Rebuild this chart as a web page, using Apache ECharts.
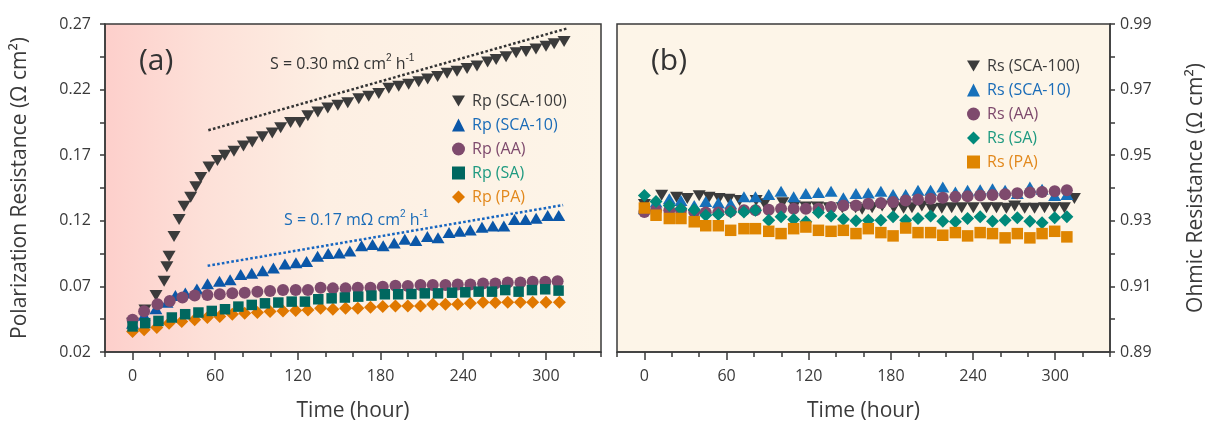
<!DOCTYPE html>
<html>
<head>
<meta charset="utf-8">
<script src="https://cdn.jsdelivr.net/npm/echarts@6/dist/echarts.min.js"></script>
<style>
html,body{margin:0;padding:0;background:#fff;}
#chart{width:1208px;height:427px;}
</style>
</head>
<body>
<div id="chart"></div>
<script>
// ---------- Data ----------
// x axis ticks
const xMajorTicks = [0, 60, 120, 180, 240, 300];
const xMinorTicks = [-20, 20, 40, 80, 100, 140, 160, 200, 220, 260, 280, 320, 340];
// left y axis (Polarization Resistance)
const yLeftLabels = [0.02, 0.07, 0.12, 0.17, 0.22, 0.27];
const yLeftTicks = [0.02, 0.045, 0.07, 0.095, 0.12, 0.145, 0.17, 0.195, 0.22, 0.245, 0.27];
// right y axis (Ohmic Resistance)
const yRightLabels = [0.89, 0.91, 0.93, 0.95, 0.97, 0.99];
const yRightTicks = [0.89, 0.90, 0.91, 0.92, 0.93, 0.94, 0.95, 0.96, 0.97, 0.98, 0.99];

// Panel (a): Rp
const tRpSCA100 = [0, 9, 17, 22.9, 24.9, 26.5, 30.1, 33.8, 37.4, 42.2, 45.9, 49.5, 55.5, 61.6, 66.9, 73.6, 80.5, 86.9, 94.2, 101.4, 107.5, 114.7, 121.4, 127.2, 134.5, 141.7, 149, 156.2,
  164.2, 171.4, 178.7, 186, 193.2, 200.4, 207.7, 214.2, 221.4, 228.3, 235.5, 242.8, 250, 257.7, 263.9, 271.1, 278.4, 285.6, 292.8, 300.1, 306, 313.2];
const rpSCA100 = [0.042, 0.052, 0.063, 0.074, 0.085, 0.093, 0.108, 0.121, 0.131, 0.138, 0.146, 0.153, 0.161, 0.166, 0.170, 0.173, 0.177, 0.180, 0.184, 0.187, 0.191, 0.195, 0.195, 0.200, 0.203, 0.206, 0.208, 0.210,
  0.213, 0.215, 0.217, 0.221, 0.2226, 0.224, 0.226, 0.228, 0.230, 0.2325, 0.234, 0.236, 0.238, 0.241, 0.243, 0.245, 0.248, 0.249, 0.251, 0.253, 0.255, 0.2567];

const tRpSCA10 = [0, 8.4, 16.9, 25, 31.1, 38.3, 46.7, 54.4, 63.1, 70.8, 78.5, 86.5, 94.4, 102.2, 110.6, 118.6, 126.3, 134.3, 142, 150, 157.7, 166.2, 174.2, 181.9, 189.9, 197.6, 205.6, 214, 221.7, 229.7, 237.4, 245.1, 253.6, 261.5, 269.5, 277.2, 285.2, 292.9, 301.3, 309.3];
const rpSCA10 = [0.042, 0.048, 0.053, 0.058, 0.063, 0.065, 0.068, 0.072, 0.074, 0.075, 0.079, 0.080, 0.082, 0.084, 0.087, 0.088, 0.089, 0.093, 0.095, 0.0955, 0.097, 0.101, 0.102, 0.101, 0.103, 0.106, 0.105, 0.108, 0.107, 0.111, 0.112, 0.113, 0.115, 0.116, 0.116, 0.121, 0.121, 0.122, 0.124, 0.124];

const tRpAA = [0, 8.4, 18.1, 27, 36.2, 45.1, 54.3, 63.3, 72.4, 81.4, 90.6, 99.8, 109.2, 118.4, 127.3, 136.5, 145.4, 154.6, 163.5, 172.7, 181.6, 190.8, 199.8, 209, 217.9, 227.1, 236, 245.2, 254.4, 263.3, 272.3, 281.5, 290.4, 299.6, 308.5];
const rpAA = [0.0445, 0.051, 0.0564, 0.0589, 0.0615, 0.063, 0.0635, 0.064, 0.0647, 0.0652, 0.066, 0.0665, 0.0672, 0.0672, 0.0672, 0.069, 0.0685, 0.0685, 0.069, 0.069, 0.0698, 0.0705, 0.0703, 0.071, 0.071, 0.071, 0.0715, 0.0715, 0.0723, 0.0723, 0.073, 0.073, 0.0735, 0.0735, 0.074];

const tRpSA = [0, 9.2, 18.8, 28.5, 38.2, 47.8, 57.5, 67.1, 76.8, 86.5, 96.1, 105.8, 115.5, 125.1, 134.8, 144.5, 154.1, 163.8, 173.4, 183.1, 192.8, 202.4, 212.1, 221.7, 231.9, 241.5, 251.2, 260.9, 270.5, 280.2, 289.9, 299.5, 309.2];
const rpSA = [0.0395, 0.042, 0.0437, 0.0463, 0.0488, 0.0501, 0.0513, 0.0526, 0.0546, 0.0559, 0.0571, 0.0577, 0.0584, 0.0584, 0.0602, 0.0609, 0.0615, 0.0622, 0.063, 0.064, 0.064, 0.0642, 0.0647, 0.0647, 0.0652, 0.0655, 0.066, 0.066, 0.0672, 0.066, 0.0672, 0.0678, 0.0668];

const tRpPA = [0, 8.4, 17.6, 26.5, 35.7, 45.1, 54.3, 63.3, 72.4, 81.4, 90.6, 99.8, 109.2, 118.4, 127.3, 136.5, 145.4, 154.6, 163.5, 172.7, 181.6, 190.8, 199.8, 209, 217.9, 227.1, 236, 245.2, 254.4, 263.3, 272.3, 281.5, 290.4, 300.1, 309.8];
const rpPA = [0.0357, 0.0369, 0.0387, 0.042, 0.0433, 0.0445, 0.0463, 0.047, 0.0488, 0.0496, 0.0501, 0.0508, 0.0513, 0.0516, 0.0521, 0.0534, 0.0526, 0.0534, 0.0534, 0.0541, 0.0546, 0.0551, 0.0551, 0.0551, 0.0564, 0.0564, 0.0564, 0.0571, 0.0579, 0.0577, 0.0579, 0.0579, 0.0579, 0.0579, 0.0579];

// degradation-rate guide lines (panel a)
const fitSCA100T = [55, 315];
const fitSCA100V = [0.189, 0.2665];
const fitSCA10T = [54.5, 312.5];
const fitSCA10V = [0.0857, 0.132];

// Panel (b): Rs
const tRsSCA100 = [0, 12.6, 23.5, 31.3, 40, 47.2, 54.5, 61.7, 69.5, 81.6, 87.7, 101, 109.5, 117.9, 126.4, 134.9, 144.5, 154.2, 159, 166.3, 173.6, 182.1, 189.3, 195.4, 202.6, 209.9, 217.2, 224.4, 231.7, 240.2, 249.8, 257.1, 264.3, 270.4, 277.7, 284.9, 292.2, 299.5, 306.7, 314];
const rsSCA100 = [0.935, 0.9378, 0.9372, 0.9368, 0.9376, 0.9372, 0.9368, 0.9366, 0.9362, 0.9362, 0.9352, 0.9355, 0.9345, 0.9342, 0.9342, 0.934, 0.934, 0.934, 0.9335, 0.934, 0.9345, 0.934, 0.9338, 0.934, 0.9345, 0.9335, 0.9338, 0.934, 0.934, 0.934, 0.934, 0.934, 0.9338, 0.9345, 0.9338, 0.9338, 0.934, 0.934, 0.934, 0.9368];

const tRs = [0, 8.5, 18.2, 26.7, 36.4, 44.8, 54, 63, 72.7, 81.1, 90.8, 99.8, 109, 117.9, 127.1, 136.3, 145.3, 154.5, 163.5, 172.7, 181.6, 190.8, 199.8, 209, 217.9, 227.1, 236, 245.2, 254.2, 263.4, 272.3, 281.5, 290.4, 299.6, 308.5];
const rsSCA10 = [0.9337, 0.9357, 0.9367, 0.9362, 0.9347, 0.9359, 0.9355, 0.9352, 0.9373, 0.9373, 0.938, 0.939, 0.9373, 0.9383, 0.9386, 0.939, 0.937, 0.9383, 0.9385, 0.939, 0.938, 0.938, 0.9393, 0.9393, 0.9403, 0.9388, 0.9393, 0.9395, 0.9398, 0.9393, 0.9383, 0.9403, 0.9396, 0.9377, 0.938];
const rsAA = [0.9327, 0.9332, 0.9332, 0.9332, 0.9327, 0.9325, 0.9325, 0.9329, 0.9332, 0.9332, 0.9334, 0.9337, 0.9337, 0.9337, 0.9337, 0.9342, 0.9347, 0.9347, 0.9352, 0.9354, 0.9357, 0.9362, 0.9365, 0.9367, 0.937, 0.9373, 0.9375, 0.9377, 0.9379, 0.9381, 0.9384, 0.9386, 0.9388, 0.939, 0.9393];
const rsSA = [0.9377, 0.9359, 0.9347, 0.9337, 0.9334, 0.9317, 0.9319, 0.9327, 0.9327, 0.9332, 0.9302, 0.9312, 0.9304, 0.9297, 0.9325, 0.9315, 0.9305, 0.93, 0.9302, 0.9302, 0.9312, 0.9302, 0.9307, 0.9315, 0.9299, 0.9297, 0.9307, 0.9312, 0.9299, 0.9302, 0.9309, 0.9299, 0.9294, 0.9309, 0.9312];
const rsPA = [0.9339, 0.9317, 0.9307, 0.9307, 0.9297, 0.9285, 0.9285, 0.9271, 0.9276, 0.9276, 0.9268, 0.9261, 0.9276, 0.9281, 0.9271, 0.9268, 0.9271, 0.9261, 0.9276, 0.9264, 0.9254, 0.9278, 0.9264, 0.9264, 0.9256, 0.9264, 0.9254, 0.9264, 0.9261, 0.9248, 0.9261, 0.9248, 0.9261, 0.9268, 0.9251];

// ---------- Chart ----------
const FONT = "'Open Sans', 'Noto Sans', 'DejaVu Sans', sans-serif";
const AX = '#3a3a3a';
const zip = (t, v) => t.map((x, i) => [x, v[i]]);
const DOWN_TRI = 'path://M0,0L12,0L6,10Z';

const C = {
  dark: '#3b3b3b',
  blueA: '#0b57a8', blueB: '#1670ba',
  purple: '#7e4a6d',
  tealA: '#00675f', tealB: '#00897a',
  orangeA: '#e07800', orangeB: '#df8500',
  tealText: '#1f9a80', orangeText: '#e2881c', blueText: '#1a6cb8'
};

function scat(name, t, v, symbol, color, size, rotate, xi, yi) {
  return {
    name, type: 'scatter', xAxisIndex: xi, yAxisIndex: yi,
    data: zip(t, v), symbol, symbolSize: size, symbolRotate: rotate || 0,
    symbolKeepAspect: true,
    itemStyle: { color, opacity: 1 }, silent: true
  };
}
function fit(t, v, color) {
  return {
    type: 'line', xAxisIndex: 0, yAxisIndex: 0, data: zip(t, v),
    symbol: 'none', silent: true,
    lineStyle: { color, width: 2.5, type: [2.6, 2.2] }, z: 3
  };
}

function xAxes(grid) {
  return [
    {
      gridIndex: grid, type: 'value', position: 'bottom', min: -20, max: 340,
      axisLine: { show: true, onZero: false, lineStyle: { color: AX, width: 1.5 } },
      axisTick: { show: true, length: 8, inside: false, customValues: xMajorTicks, lineStyle: { color: AX, width: 1.5 } },
      axisLabel: { customValues: xMajorTicks, margin: 16, fontSize: 16, color: AX, fontFamily: FONT },
      splitLine: { show: false },
      name: 'Time (hour)', nameLocation: 'middle', nameGap: 49,
      nameTextStyle: { fontSize: 21, color: AX, fontFamily: FONT }
    },
    {
      gridIndex: grid, type: 'value', position: 'bottom', min: -20, max: 340,
      axisLine: { show: false, onZero: false },
      axisTick: { show: true, length: 5, customValues: xMinorTicks, lineStyle: { color: AX, width: 1.5 } },
      axisLabel: { show: false },
      splitLine: { show: false }
    }
  ];
}

const chart = echarts.init(document.getElementById('chart'), null, { renderer: 'canvas' });

const supRich = {
  sup: { fontSize: 10, verticalAlign: 'top', lineHeight: 14 }
};

const legendCommon = {
  orient: 'vertical', itemWidth: 13, itemHeight: 13, itemGap: 8,
  symbolKeepAspect: true, selectedMode: false,
  textStyle: { fontSize: 16, fontFamily: FONT, padding: [0, 0, 0, 2] }
};

const option = {
  animation: false,
  backgroundColor: '#ffffff',
  textStyle: { fontFamily: FONT },
  grid: [
    {
      left: 105, right: 607, top: 24, bottom: 73, show: true,
      borderColor: AX, borderWidth: 1.5,
      backgroundColor: new echarts.graphic.LinearGradient(0, 0, 1, 0, [
        { offset: 0, color: '#fdcfcb' },
        { offset: 0.2, color: '#fde0d8' },
        { offset: 0.45, color: '#fdefe3' },
        { offset: 1, color: '#fdf5e8' }
      ])
    },
    {
      left: 617, right: 96, top: 24, bottom: 73, show: true,
      borderColor: AX, borderWidth: 1.5, backgroundColor: '#fdf5e8'
    }
  ],
  xAxis: [...xAxes(0), ...xAxes(1)],
  yAxis: [
    {
      gridIndex: 0, type: 'value', position: 'left', min: 0.02, max: 0.27,
      axisLine: { show: true, onZero: false, lineStyle: { color: AX, width: 1.5 } },
      axisTick: { show: true, length: 5, customValues: yLeftTicks, lineStyle: { color: AX, width: 1.5 } },
      axisLabel: { customValues: yLeftLabels, margin: 14, fontSize: 16, color: AX, fontFamily: FONT,
        formatter: v => v.toFixed(2) },
      splitLine: { show: false },
      name: 'Polarization Resistance (Ω cm²)', nameLocation: 'middle', nameGap: 74, nameRotate: 90,
      nameTextStyle: { fontSize: 21, color: AX, fontFamily: FONT }
    },
    {
      gridIndex: 1, type: 'value', position: 'right', min: 0.89, max: 0.99,
      axisLine: { show: true, onZero: false, lineStyle: { color: AX, width: 1.5 } },
      axisTick: { show: true, length: 5, customValues: yRightTicks, lineStyle: { color: AX, width: 1.5 } },
      axisLabel: { customValues: yRightLabels, margin: 10, fontSize: 16, color: AX, fontFamily: FONT,
        formatter: v => v.toFixed(2) },
      splitLine: { show: false },
      name: 'Ohmic Resistance (Ω cm²)', nameLocation: 'middle', nameGap: 76, nameRotate: 90,
      nameTextStyle: { fontSize: 21, color: AX, fontFamily: FONT }
    }
  ],
  legend: [
    Object.assign({}, legendCommon, {
      left: 447, top: 88,
      data: [
        { name: 'Rp (SCA-100)', icon: DOWN_TRI, textStyle: { color: C.dark } },
        { name: 'Rp (SCA-10)', textStyle: { color: C.blueText } },
        { name: 'Rp (AA)', textStyle: { color: C.purple } },
        { name: 'Rp (SA)', textStyle: { color: C.tealText } },
        { name: 'Rp (PA)', textStyle: { color: C.orangeText } }
      ]
    }),
    Object.assign({}, legendCommon, {
      left: 962, top: 53,
      data: [
        { name: 'Rs (SCA-100)', icon: DOWN_TRI, textStyle: { color: C.dark } },
        { name: 'Rs (SCA-10)', textStyle: { color: C.blueText } },
        { name: 'Rs (AA)', textStyle: { color: C.purple } },
        { name: 'Rs (SA)', textStyle: { color: C.tealText } },
        { name: 'Rs (PA)', textStyle: { color: C.orangeText } }
      ]
    })
  ],
  graphic: [
    { type: 'text', left: 139, top: 46, silent: true,
      style: { text: '(a)', fontSize: 30, fontFamily: FONT, fill: '#333' } },
    { type: 'text', left: 651, top: 46, silent: true,
      style: { text: '(b)', fontSize: 30, fontFamily: FONT, fill: '#333' } },
    { type: 'text', left: 270, top: 53, silent: true,
      style: { text: 'S = 0.30 mΩ cm{sup|2} h{sup|-1}', fontSize: 16, lineHeight: 22, fontFamily: FONT, fill: '#333', rich: supRich } },
    { type: 'text', left: 284, top: 209, silent: true,
      style: { text: 'S = 0.17 mΩ cm{sup|2} h{sup|-1}', fontSize: 16, lineHeight: 22, fontFamily: FONT, fill: C.blueText, rich: supRich } }
  ],
  series: [
    fit(fitSCA100T, fitSCA100V, '#333333'),
    fit(fitSCA10T, fitSCA10V, '#1565c0'),
    scat('Rp (SCA-100)', tRpSCA100, rpSCA100, 'triangle', C.dark, [13, 11], 180, 0, 0),
    scat('Rp (SCA-10)', tRpSCA10, rpSCA10, 'triangle', C.blueA, [13, 11], 0, 0, 0),
    scat('Rp (AA)', tRpAA, rpAA, 'circle', C.purple, 12, 0, 0, 0),
    scat('Rp (PA)', tRpPA, rpPA, 'diamond', C.orangeA, 13, 0, 0, 0),
    scat('Rp (SA)', tRpSA, rpSA, 'rect', C.tealA, 10.5, 0, 0, 0),

    scat('Rs (SCA-100)', tRsSCA100, rsSCA100, 'triangle', C.dark, [13, 11], 180, 2, 1),
    scat('Rs (SCA-10)', tRs, rsSCA10, 'triangle', C.blueB, [13, 11], 0, 2, 1),
    scat('Rs (AA)', tRs, rsAA, 'circle', C.purple, 12, 0, 2, 1),
    scat('Rs (SA)', tRs, rsSA, 'diamond', C.tealB, 13, 0, 2, 1),
    scat('Rs (PA)', tRs, rsPA, 'rect', C.orangeB, 11.5, 0, 2, 1)
  ]
};
chart.setOption(option);
</script>
</body>
</html>
